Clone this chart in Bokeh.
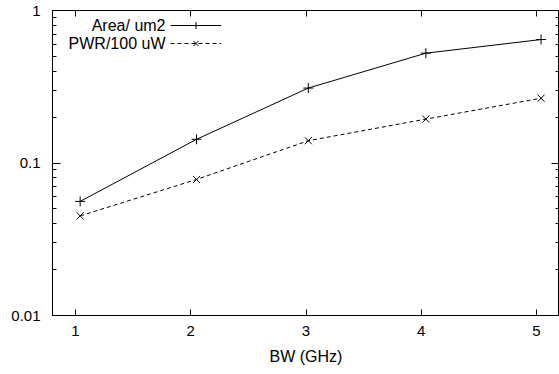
from bokeh.plotting import figure
from bokeh.models import (FixedTicker, LogAxis, LinearAxis, Legend, LegendItem,
                          Label, Range1d, PrintfTickFormatter, CustomJSTickFormatter)
from bokeh.embed import file_html
from bokeh.resources import INLINE

# ---- data ----
bw = [1.04, 2.05, 3.02, 4.04, 5.04]
area = [0.056, 0.143, 0.31, 0.525, 0.645]
pwr = [0.045, 0.078, 0.140, 0.194, 0.266]
series_names = ["Area/ um2", "PWR/100 uW"]
x_ticks = [1, 2, 3, 4, 5]
y_ticks = [0.01, 0.1, 1]
y_minor = [m * 10.0 ** e for e in (-2, -1) for m in range(2, 10)]
x_label = "BW (GHz)"

FONT = "Liberation Sans"
FS = "15px"
FS_L = "16px"

p = figure(width=559, height=374, y_axis_type="log",
           x_range=Range1d(0.8, 5.2), y_range=Range1d(0.01, 1),
           output_backend="svg", toolbar_location=None,
           min_border_left=52, min_border_right=0, min_border_top=10, min_border_bottom=59)
p.grid.visible = False
p.background_fill_color = "white"
p.border_fill_color = "white"
p.outline_line_color = "black"
p.outline_line_width = 1

# bottom axis
xa = p.xaxis[0]
xa.ticker = FixedTicker(ticks=x_ticks, minor_ticks=[])
xa.axis_line_color = None
xa.major_tick_in = 6
xa.major_tick_out = 0
xa.major_tick_line_color = "black"
xa.minor_tick_in = 0
xa.minor_tick_out = 0
xa.major_label_standoff = 10
xa.major_label_text_font = FONT
xa.major_label_text_font_size = FS
xa.major_label_text_color = "black"
xa.axis_label = x_label
xa.axis_label_text_font = FONT
xa.axis_label_text_font_size = FS_L
xa.axis_label_text_font_style = "normal"
xa.axis_label_text_color = "black"
xa.axis_label_standoff = 9

# left axis
ya = p.yaxis[0]
ya.ticker = FixedTicker(ticks=y_ticks, minor_ticks=y_minor)
ya.formatter = PrintfTickFormatter(format="%g")
ya.axis_line_color = None
ya.major_tick_in = 8
ya.major_tick_out = 0
ya.minor_tick_in = 4
ya.minor_tick_out = 0
ya.major_tick_line_color = "black"
ya.minor_tick_line_color = "black"
ya.major_label_standoff = 12
ya.major_label_text_font = FONT
ya.major_label_text_font_size = FS
ya.major_label_text_color = "black"

# mirror axes (ticks only, empty labels)
blank = CustomJSTickFormatter(code="return '';")
ta = LinearAxis(ticker=FixedTicker(ticks=x_ticks, minor_ticks=[]), formatter=blank,
                axis_line_color=None, major_tick_in=6, major_tick_out=0,
                minor_tick_in=0, minor_tick_out=0, major_tick_line_color="black",
                major_label_text_font_size="1px", major_label_standoff=0)
p.add_layout(ta, "above")
ra = LogAxis(ticker=FixedTicker(ticks=y_ticks, minor_ticks=y_minor), formatter=blank,
             axis_line_color=None, major_tick_in=8, major_tick_out=0,
             minor_tick_in=4, minor_tick_out=0, major_tick_line_color="black",
             minor_tick_line_color="black",
             major_label_text_font_size="1px", major_label_standoff=0)
p.add_layout(ra, "right")

# series
r1 = p.line(bw, area, line_color="black", line_width=1)
m1 = p.scatter(bw, area, marker="cross", size=10, line_color="black", line_width=1)
r2 = p.line(bw, pwr, line_color="black", line_width=1, line_dash="4 3")
m2 = p.scatter(bw, pwr, marker="x", size=10, line_color="black", line_width=1)

legend = Legend(items=[LegendItem(label=" ", renderers=[r1, m1]),
                       LegendItem(label=" ", renderers=[r2, m2])],
                location=(118, 263), orientation="vertical",
                glyph_width=51, glyph_height=18, spacing=0, padding=0, margin=0,
                border_line_color=None, background_fill_alpha=0,
                label_width=2, label_height=10, label_standoff=0,
                label_text_font_size="10px")
p.add_layout(legend)

for name, yy in zip(series_names, [290, 272]):
    p.add_layout(Label(x=113, y=yy, x_units="screen", y_units="screen", text=name,
                       text_align="right", text_baseline="middle",
                       text_font=FONT, text_font_size=FS_L, text_color="black"))

open("out.html", "w").write(file_html(p, INLINE))
